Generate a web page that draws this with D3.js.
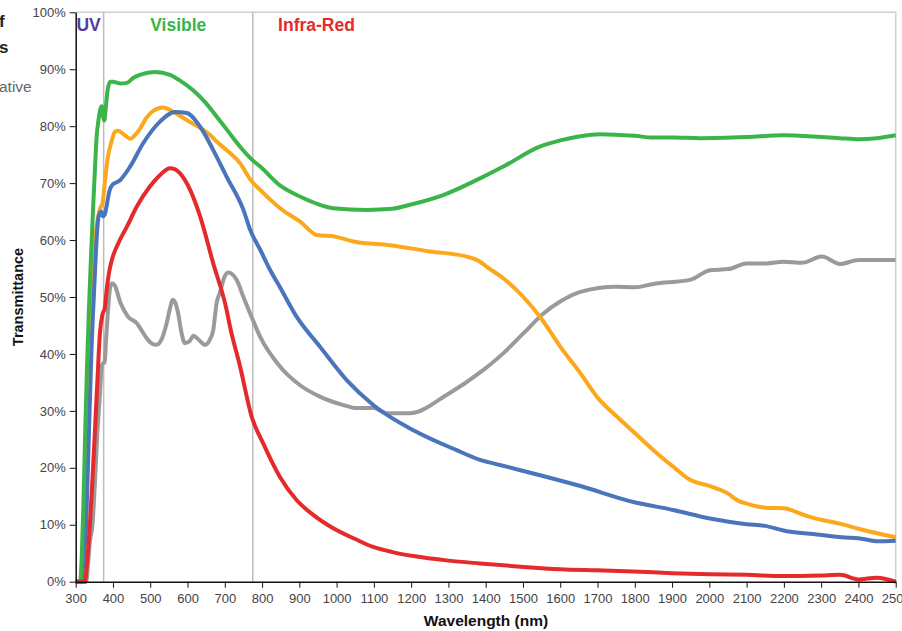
<!DOCTYPE html>
<html lang="en">
<head>
<meta charset="utf-8">
<title>transmittance</title>
<script src="https://d3js.org/d3.v7.min.js"></script>
<style>
  body { margin: 0; background: #fff; }
  svg { display: block; font-family: "Liberation Sans", Arial, sans-serif; }
</style>
</head>
<body>
<svg width="902" height="631"></svg>
<script>
// wavelength (nm), transmittance (%)
var greenSeries = [[300,0],[312,0],[316,4],[320,12],[325,25],[330,37],[335,47],[341,57],[347,66],[352,73],[356,78],[361,81],[366,83],[370,83.5],[374,81.5],[377,81],[381,83.5],[386,86.5],[393,87.8],[400,87.8],[420,87.5],[437,87.6],[455,88.5],[472,89],[513,89.5],[553,89],[580,88],[615,86.3],[650,84],[678,81.7],[710,79],[741,76.4],[775,74],[795,72.9],[850,69.5],[903,67.6],[950,66.3],[991,65.6],[1081,65.3],[1150,65.5],[1197,66.2],[1286,67.9],[1393,71.1],[1450,73],[1545,76.4],[1600,77.5],[1650,78.2],[1707,78.6],[1800,78.3],[1850,78],[1900,78],[1976,77.9],[2100,78.1],[2198,78.4],[2300,78.1],[2350,77.9],[2400,77.7],[2450,77.9],[2500,78.4]];
var orangeSeries = [[300,0],[314,0],[318,4],[322,10],[330,25],[338,40],[345,52],[352,60],[360,64],[365,65.5],[372,66.5],[378,70],[385,74],[397,77.5],[405,79],[414,79.2],[430,78.5],[446,77.8],[460,78.5],[472,79.5],[490,81.5],[508,82.7],[535,83.3],[562,82.5],[600,81],[634,79.7],[660,78.5],[678,77.3],[710,75.5],[741,73.5],[770,70.5],[795,68.8],[850,65.5],[903,63.2],[947,60.9],[996,60.6],[1049,59.7],[1143,59.1],[1251,58],[1349,57.1],[1385,56.2],[1403,55.3],[1447,53.3],[1501,50],[1546,46.5],[1600,41.3],[1654,36.6],[1702,32.2],[1752,29],[1805,25.8],[1850,23.1],[1903,20.2],[1948,17.9],[2002,16.8],[2047,15.6],[2078,14.2],[2100,13.7],[2150,13],[2200,12.9],[2250,11.8],[2279,11.2],[2350,10.2],[2400,9.3],[2450,8.5],[2500,7.8]];
var blueSeries = [[300,0],[316,0],[320,3],[328,10],[335,25],[342,40],[350,52],[356,60],[361,64],[368,65],[373,64.2],[378,64.5],[383,66],[390,68.5],[397,69.6],[419,70.5],[446,72.9],[481,77],[526,80.8],[566,82.5],[598,82.3],[634,79.9],[669,75.8],[705,71.1],[750,65.3],[768,61.8],[795,58.3],[822,54.7],[850,51.5],[893,46.5],[955,41.3],[1027,35.4],[1099,31],[1206,26.6],[1322,23.1],[1385,21.4],[1438,20.5],[1546,18.7],[1654,16.8],[1796,14],[1903,12.6],[2002,11.1],[2100,10.1],[2150,9.8],[2199,9],[2301,8.2],[2355,7.8],[2404,7.6],[2453,7.1],[2500,7.2]];
var redSeries = [[300,0],[325,0],[330,3],[338,10],[345,18],[352,27],[358,35],[365,43.6],[372,47],[378,48],[383,51.2],[390,54.5],[397,56.5],[414,59.4],[437,62.3],[464,65.9],[499,69.4],[526,71.4],[553,72.6],[567,72.4],[580,71.7],[607,68.8],[634,64.1],[669,55.9],[705,47.7],[714,44.8],[741,37.8],[772,29],[803,24.3],[848,18.4],[893,14.3],[938,11.7],[991,9.4],[1050,7.5],[1098,6.1],[1150,5.2],[1206,4.5],[1300,3.7],[1385,3.2],[1501,2.6],[1600,2.2],[1700,2],[1796,1.8],[1900,1.5],[2002,1.3],[2100,1.2],[2199,1],[2300,1.1],[2351,1.2],[2400,0.4],[2449,0.7],[2500,0]];
var graySeries = [[300,0],[328,0],[333,3],[338,7],[345,10],[352,18],[358,26],[365,33],[370,38],[374,38.4],[378,38.5],[381,42],[386,47],[392,51.5],[397,52.4],[405,52],[420,49],[441,46.5],[464,45.4],[478,44],[491,42.7],[505,41.8],[517,41.6],[530,42.5],[544,45.4],[553,48],[560,49.5],[567,49],[575,47.1],[583,44],[593,41.9],[605,42.2],[616,43.2],[630,42.5],[647,41.6],[660,42.5],[669,44.2],[678,48.9],[687,50.8],[699,53.5],[709,54.3],[720,54],[732,53],[750,50],[768,47.1],[795,43],[848,37.8],[902,34.5],[955,32.5],[1036,30.7],[1049,30.5],[1099,30.5],[1134,29.6],[1197,29.6],[1295,32.8],[1394,37.2],[1447,40.1],[1501,43.6],[1555,47.1],[1600,49.2],[1654,50.9],[1751,51.8],[1801,51.7],[1850,52.3],[1948,53],[2002,54.7],[2051,54.9],[2100,55.9],[2154,55.9],[2199,56.2],[2248,56],[2302,57.1],[2351,55.8],[2400,56.5],[2500,56.5]];

var xTicks = d3.range(300, 2501, 100);
var yTicks = d3.range(0, 101, 10);
var bandEdges = [375, 775];
var bandLabels = [["UV", 302], ["Visible", 500], ["Infra-Red", 843]];

var svg = d3.select("svg");
var x = d3.scaleLinear().domain([300, 2500]).range([75.7, 895.7]);
var y = d3.scaleLinear().domain([0, 100]).range([581.7, 12.3]);

// cut off text on the far left (title / legend outside the frame)
svg.append("text").attr("x", -1).attr("y", 27).attr("font-size", 17).attr("font-weight", "bold").attr("fill", "#222").text("f");
svg.append("text").attr("x", -1).attr("y", 53).attr("font-size", 17).attr("font-weight", "bold").attr("fill", "#222").text("s");
svg.append("text").attr("x", -1).attr("y", 92).attr("font-size", 15.5).attr("fill", "#666").text("ative");

// frame top and right
svg.append("path")
  .attr("d", `M${x(300)},${y(100)}H${x(2500)}V${y(0)}`)
  .attr("fill", "none").attr("stroke", "#cfcfcf").attr("stroke-width", 1.5);

// band boundaries
svg.append("g").selectAll("line").data(bandEdges).enter().append("line")
  .attr("x1", d => x(d)).attr("x2", d => x(d))
  .attr("y1", y(100)).attr("y2", y(0))
  .attr("stroke", "#bdbdbd").attr("stroke-width", 1.5);

var bandColors = ["#5a3b98", "#3bb54a", "#e42a2b"];
svg.append("g").selectAll("text").data(bandLabels).enter().append("text")
  .attr("x", d => x(d[1]))
  .attr("y", 31)
  .attr("font-size", 17.5).attr("font-weight", "bold")
  .attr("fill", (d, i) => bandColors[i])
  .text(d => d[0]);

// curves
var line = d3.line().x(d => x(d[0])).y(d => y(d[1])).curve(d3.curveMonotoneX);
var series = [
  {name: "gray", data: graySeries, color: "#9a9a9a"},
  {name: "orange", data: orangeSeries, color: "#fba81c"},
  {name: "blue", data: blueSeries, color: "#4a74bc"},
  {name: "green", data: greenSeries, color: "#3bb54a"},
  {name: "red", data: redSeries, color: "#e42a2b"}
];
svg.append("g").selectAll("path").data(series).enter().append("path")
  .attr("d", d => line(d.data))
  .attr("fill", "none")
  .attr("stroke", d => d.color)
  .attr("stroke-width", 4)
  .attr("stroke-linejoin", "round");

// axes
var xAxis = svg.append("g").attr("transform", `translate(0,${y(0)})`)
  .call(d3.axisBottom(x).tickValues(xTicks).tickSize(6).tickSizeOuter(0).tickPadding(6).tickFormat(d3.format("d")));
var yAxis = svg.append("g").attr("transform", `translate(${x(300)},0)`)
  .call(d3.axisLeft(y).tickValues(yTicks).tickSize(6).tickSizeOuter(0).tickPadding(4).tickFormat(d => d + "%"));
[xAxis, yAxis].forEach(function(a) {
  a.select(".domain").attr("stroke", "#111").attr("stroke-width", 1.5);
  a.selectAll(".tick line").attr("stroke", "#111");
  a.selectAll(".tick text").attr("fill", "#444").attr("font-size", 13)
    .attr("font-family", "'Liberation Sans', Arial, sans-serif");
});

svg.append("text")
  .attr("x", 486).attr("y", 626)
  .attr("text-anchor", "middle")
  .attr("font-size", 15.5).attr("font-weight", "bold").attr("fill", "#111")
  .text("Wavelength (nm)");
svg.append("text")
  .attr("transform", "translate(23,297) rotate(-90)")
  .attr("text-anchor", "middle")
  .attr("font-size", 14.5).attr("font-weight", "bold").attr("fill", "#111")
  .text("Transmittance");
</script>
</body>
</html>
